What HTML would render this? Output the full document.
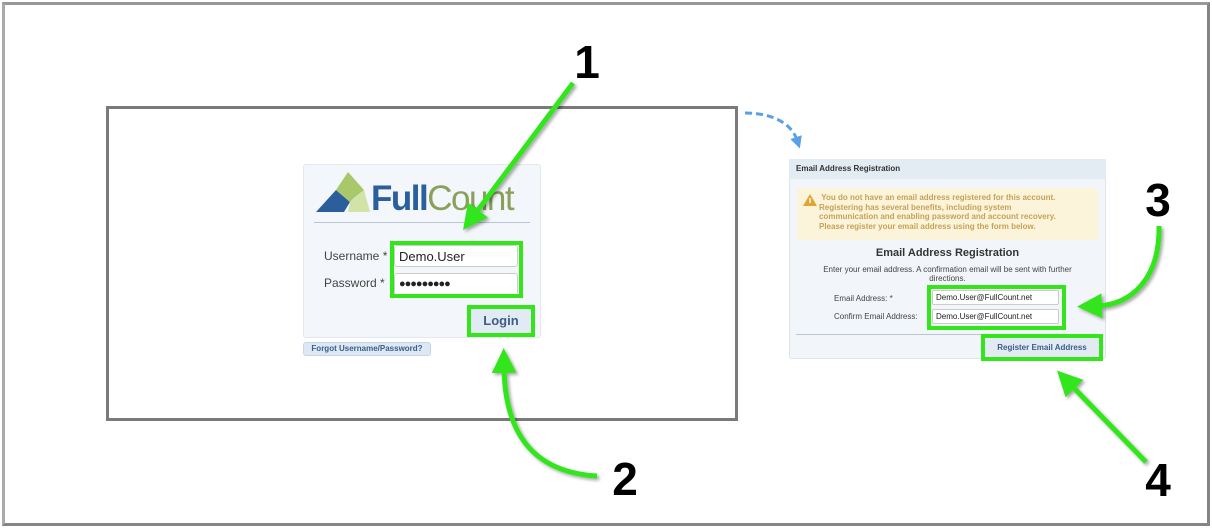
<!DOCTYPE html>
<html><head><meta charset="utf-8"><style>
*{margin:0;padding:0;box-sizing:border-box}
body{width:1212px;height:528px;background:#fff;position:relative;overflow:hidden;font-family:"Liberation Sans","DejaVu Sans",sans-serif}
.a{position:absolute}
</style></head><body>
<div class="a" style="left:2px;top:2px;width:1208px;height:524px;border:3px solid #858585;border-left-color:#aaa;border-top-color:#999"></div>
<div class="a" style="left:106px;top:106px;width:632px;height:315px;border:3px solid #7a7a7a"></div>

<!-- login panel -->
<div class="a" style="left:303px;top:164px;width:238px;height:174px;background:#f3f6fa;border:1px solid #e3e8ee;border-radius:3px"></div>
<svg class="a" style="left:314px;top:172px" width="60" height="42"><polygon points="2,40 22,18 36,30 30,40" fill="#2a5f9c"/><polygon points="22,18 34,0 50,18 40,26 36,30" fill="#a8c86a"/><polygon points="36,30 50,18 56,40 34,40" fill="#d2e3a8"/></svg>
<div class="a" style="left:371px;top:178px;font-size:35px;font-weight:bold;color:#2a5f9c;letter-spacing:-1.5px;line-height:42px">Full<span style="font-weight:normal;color:#8aa05a">Count</span></div>
<div class="a" style="left:314px;top:222px;width:216px;height:1px;background:#b9c6d2"></div>
<div class="a" style="left:324px;top:249px;font-size:12px;color:#444">Username *</div>
<div class="a" style="left:324px;top:276px;font-size:12px;color:#444">Password *</div>
<div class="a" style="left:394px;top:245px;width:124px;height:22px;background:#fff;border:1px solid #ccc;border-radius:3px;font-size:13px;padding:3px 4px;color:#222">Demo.User</div>
<div class="a" style="left:394px;top:273px;width:124px;height:22px;background:#fff;border:1px solid #ccc;border-radius:3px;font-size:11px;padding:4px 4px;color:#222;letter-spacing:-1px">●●●●●●●●●</div>
<div class="a" style="left:390px;top:241px;width:133px;height:57px;border:4px solid #33e51a"></div>
<div class="a" style="left:467px;top:305px;width:68px;height:32px;border:4px solid #33e51a;background:#e2ebf4;font-size:13px;font-weight:bold;color:#3c5d86;text-align:center;line-height:24px">Login</div>
<div class="a" style="left:303px;top:342px;width:128px;height:14px;background:#dce8f4;border:1px solid #c5d5e5;border-radius:3px;font-size:8px;font-weight:bold;color:#3c5d86;text-align:center;line-height:12px">Forgot Username/Password?</div>

<!-- email panel -->
<div class="a" style="left:789px;top:159px;width:317px;height:200px;background:#f2f6fa;border:1px solid #dde4ec;border-radius:3px"></div>
<div class="a" style="left:789px;top:159px;width:317px;height:20px;background:#e3ebf3;font-size:8px;font-weight:bold;color:#333;padding:5px 7px">Email Address Registration</div>
<div class="a" style="left:797px;top:188px;width:301px;height:52px;background:#fcf4da;border-radius:3px"></div>
<svg class="a" style="left:802px;top:193px" width="16" height="14"><polygon points="8,1 15,13 1,13" fill="#e0a532"/><rect x="7.3" y="5" width="1.4" height="5" fill="#fff"/></svg>
<div class="a" style="left:819px;top:193px;width:280px;font-size:8px;font-weight:bold;color:#c5a256;line-height:9.5px">&nbsp;You do not have an email address registered for this account.<br>Registering has several benefits, including system<br>communication and enabling password and account recovery.<br>Please register your email address using the form below.</div>
<div class="a" style="left:789px;top:247px;width:317px;text-align:center;font-size:11px;font-weight:bold;color:#333">Email Address Registration</div>
<div class="a" style="left:805px;top:265px;width:285px;text-align:center;font-size:8px;color:#444;line-height:9px">Enter your email address. A confirmation email will be sent with further directions.</div>
<div class="a" style="left:834px;top:294px;font-size:8px;color:#444">Email Address: *</div>
<div class="a" style="left:834px;top:312px;font-size:8px;color:#444">Confirm Email Address:</div>
<div class="a" style="left:932px;top:290px;width:127px;height:15px;background:#fff;border:1px solid #ccc;border-radius:2px;font-size:8px;padding:2px 3px;color:#222">Demo.User@FullCount.net</div>
<div class="a" style="left:932px;top:309px;width:127px;height:15px;background:#fff;border:1px solid #ccc;border-radius:2px;font-size:8px;padding:2px 3px;color:#222">Demo.User@FullCount.net</div>
<div class="a" style="left:927px;top:285px;width:139px;height:45px;border:4px solid #33e51a"></div>
<div class="a" style="left:796px;top:334px;width:300px;height:1px;background:#b9c6d2"></div>
<div class="a" style="left:981px;top:334px;width:122px;height:27px;border:4px solid #33e51a;background:#e2ebf4;font-size:8px;font-weight:bold;color:#3c5d86;text-align:center;line-height:19px">Register Email Address</div>

<svg class="a" style="left:0;top:0" width="1212" height="528">
<defs>
<marker id="g" markerWidth="5" markerHeight="5" refX="1" refY="2.5" orient="auto" markerUnits="strokeWidth"><polygon points="0,0 5,2.5 0,5" fill="#33e51a"/></marker>
<marker id="b" markerWidth="4" markerHeight="4" refX="1" refY="2" orient="auto" markerUnits="strokeWidth"><polygon points="0,0 4,2 0,4" fill="#5aa0e8"/></marker>
<filter id="s"><feDropShadow dx="2" dy="2" stdDeviation="1.5" flood-color="#000" flood-opacity="0.35"/></filter>
</defs>
<g fill="none" stroke="#33e51a" stroke-width="5" filter="url(#s)">
<path d="M573,83 L475,214" marker-end="url(#g)"/>
<path d="M597,476 C530,472 505,430 504,368" marker-end="url(#g)"/>
<path d="M1159,226 C1160,280 1130,305 1097,306" marker-end="url(#g)"/>
<path d="M1146,462 L1071,385" marker-end="url(#g)"/>
</g>
<path d="M745,113 C775,113 792,125 797,140" fill="none" stroke="#5aa0e8" stroke-width="3" stroke-dasharray="7,4" marker-end="url(#b)"/>
<g font-family="Liberation Sans, sans-serif" font-weight="bold" font-size="46" fill="#000" text-anchor="middle">
<text x="587" y="78">1</text>
<text x="625" y="495">2</text>
<text x="1158" y="216">3</text>
<text x="1158" y="496">4</text>
</g>
</svg>
</body></html>
